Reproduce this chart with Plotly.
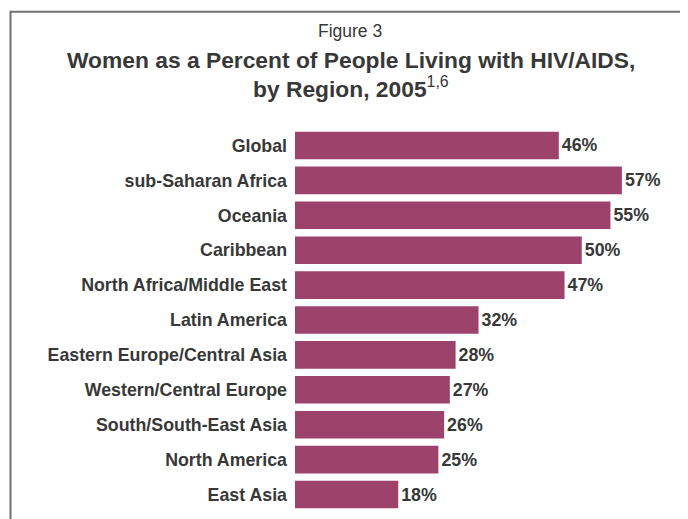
import plotly.graph_objects as go

regions = ["Global", "sub-Saharan Africa", "Oceania", "Caribbean",
           "North Africa/Middle East", "Latin America",
           "Eastern Europe/Central Asia", "Western/Central Europe",
           "South/South-East Asia", "North America", "East Asia"]
percent_women = [46, 57, 55, 50, 47, 32, 28, 27, 26, 25, 18]

# page body has an 8px margin, so the figure is laid out in page coords minus 8
OFF = 8
W, H = 688 - OFF, 519 - OFF
L, R, T, B = 295 - OFF, 0, 127.5 - OFF, 6.5
pw, ph = W - L - R, H - T - B
x_max = pw / 5.735

def py(y):
    return (H - B - (y - OFF)) / ph

def px(x):
    return ((x - OFF) - L) / pw

bar_color = "#9d426b"
text_color = "#383838"
font_family = "Liberation Sans, Arial, sans-serif"

fig = go.Figure(go.Bar(
    x=percent_women, y=regions, orientation="h",
    marker=dict(color=bar_color, line=dict(width=0)),
    texttemplate="<b>%{x}%</b>", textposition="outside",
    textfont=dict(family=font_family, size=17.8, color=text_color),
    cliponaxis=False,
))

fig.update_layout(
    width=W, height=H,
    margin=dict(l=L, r=R, t=T, b=B, pad=0),
    paper_bgcolor="white", plot_bgcolor="white",
    showlegend=False, bargap=0.21,
    font=dict(family=font_family, color=text_color),
    xaxis=dict(range=[0, x_max], visible=False, fixedrange=True),
    yaxis=dict(autorange="reversed", showgrid=False, zeroline=False, showline=False,
               ticks="", ticklabelstandoff=7,
               tickfont=dict(family=font_family, size=17.8, color=text_color),
               tickvals=regions, ticktext=["<b>%s</b>" % r for r in regions]),
    annotations=[
        dict(text="Figure 3", x=px(350), y=py(30), xref="paper", yref="paper",
             showarrow=False, xanchor="center", yanchor="middle",
             font=dict(size=17.5, color=text_color)),
        dict(text="<b>Women as a Percent of People Living with HIV/AIDS,</b>",
             x=px(351), y=py(59.5), xref="paper", yref="paper",
             showarrow=False, xanchor="center", yanchor="middle",
             font=dict(size=22.8, color=text_color)),
        dict(text="<b>by Region, 2005</b><sup>1,6</sup>",
             x=px(351), y=py(87), xref="paper", yref="paper",
             showarrow=False, xanchor="center", yanchor="middle",
             font=dict(size=22.8, color=text_color)),
    ],
    shapes=[
        dict(type="line", xref="paper", yref="paper",
             x0=px(10.5), x1=px(700), y0=py(11), y1=py(11),
             line=dict(color="#707070", width=2)),
        dict(type="line", xref="paper", yref="paper",
             x0=px(10.5), x1=px(10.5), y0=py(10), y1=py(530),
             line=dict(color="#707070", width=2)),
    ],
)

fig.write_html("out.html")
